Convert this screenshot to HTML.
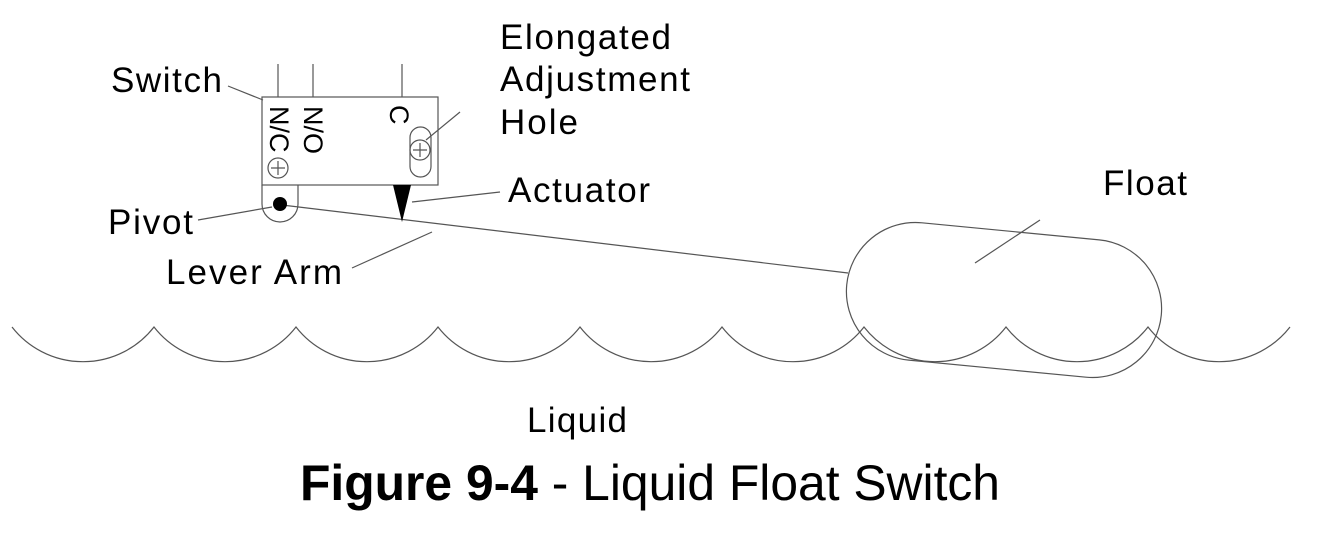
<!DOCTYPE html>
<html><head><style>
html,body{margin:0;padding:0;background:#fff;}
svg{display:block;}
text{font-family:"Liberation Sans",Arial,sans-serif;fill:#000;}
</style></head><body>
<svg width="1330" height="534" viewBox="0 0 1330 534" xmlns="http://www.w3.org/2000/svg">
<g fill="none" stroke="#555" stroke-width="1.2">
<path d="M12,327 A90,90 0 0 0 154,327 A90,90 0 0 0 296,327 A90,90 0 0 0 438,327 A90,90 0 0 0 580,327 A90,90 0 0 0 722,327 A90,90 0 0 0 864,327 A90,90 0 0 0 1006,327 A90,90 0 0 0 1148,327 A90,90 0 0 0 1290,327"/>
<g transform="translate(1004,300) rotate(5.5)">
<path d="M-89,-69 L89,-69 A69,69 0 0 1 89,69 L-89,69 A69,69 0 0 1 -89,-69 Z"/>
</g>
<line x1="278" y1="64" x2="278" y2="97"/>
<line x1="313" y1="64" x2="313" y2="97"/>
<line x1="402" y1="64" x2="402" y2="97"/>
<rect x="262" y="97" width="176" height="88"/>
<path d="M262,185 L262,204 A18,18 0 0 0 298,204 L298,185"/>
<circle cx="278" cy="168" r="10"/>
<path d="M278,161 V175 M271,168 H285"/>
<rect x="410" y="127" width="21" height="50" rx="10.5"/>
<circle cx="420" cy="150" r="10"/>
<path d="M420,143 V157 M413,150 H427"/>
<line x1="282" y1="205" x2="848" y2="273"/>
<line x1="228" y1="86" x2="263" y2="100"/>
<line x1="426" y1="140" x2="460" y2="112"/>
<line x1="412" y1="202" x2="500" y2="192"/>
<line x1="198" y1="220" x2="272" y2="207"/>
<line x1="352" y1="268" x2="432" y2="232"/>
<line x1="975" y1="263" x2="1040" y2="220"/>
</g>
<circle cx="280" cy="204" r="7" fill="#000"/>
<polygon points="393,185 411,185 402,222" fill="#000"/>
<text x="0" y="0" font-size="27" transform="translate(270,106) rotate(90)">N/C</text>
<text x="0" y="0" font-size="27" transform="translate(304,106) rotate(90)">N/O</text>
<text x="0" y="0" font-size="27" transform="translate(390,105) rotate(90)">C</text>
<g font-size="35" lengthAdjust="spacingAndGlyphs">
<text x="111" y="92" textLength="111">Switch</text>
<text x="500" y="49" textLength="171">Elongated</text>
<text x="500" y="91" textLength="190">Adjustment</text>
<text x="500" y="134" textLength="78">Hole</text>
<text x="508" y="202" textLength="142">Actuator</text>
<text x="108" y="234" textLength="85">Pivot</text>
<text x="166" y="284" textLength="176">Lever Arm</text>
<text x="1103" y="195" textLength="84">Float</text>
<text x="527" y="432" textLength="100">Liquid</text>
</g>
<text x="300" y="500" font-size="50" textLength="700" lengthAdjust="spacingAndGlyphs"><tspan font-weight="bold">Figure 9-4</tspan> - Liquid Float Switch</text>
</svg>
</body></html>
